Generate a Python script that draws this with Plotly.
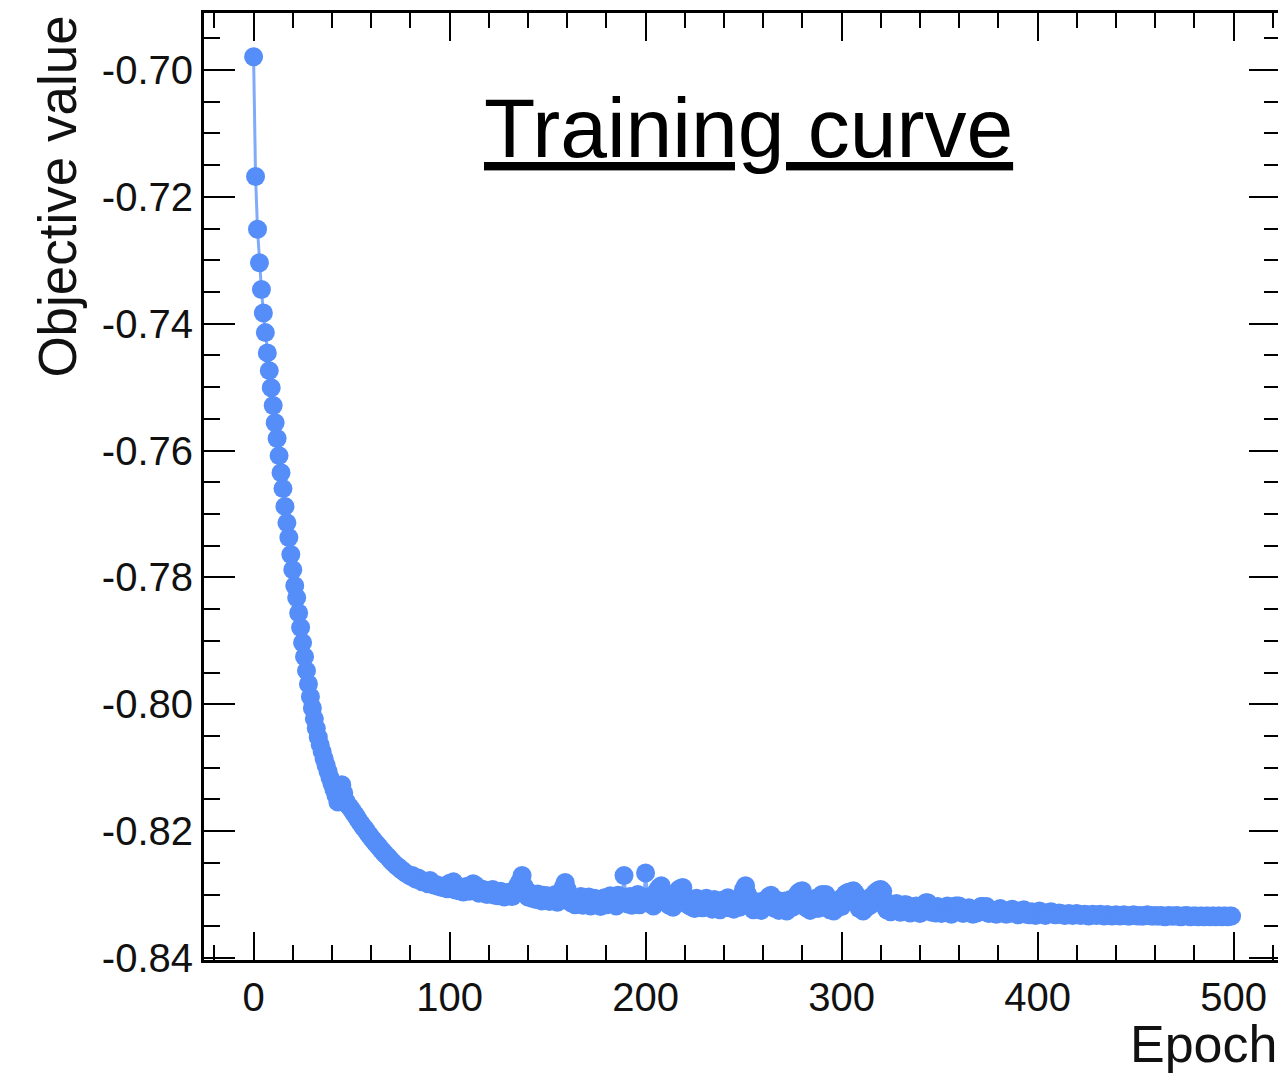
import plotly.graph_objects as go

# ---- data ----
objective = [
    -0.6979, -0.7168, -0.7251, -0.7304, -0.7346, -0.7383, -0.7414, -0.7446, -0.7474, -0.7501,
    -0.7529, -0.7556, -0.7581, -0.7608, -0.7635, -0.7660, -0.7688, -0.7714, -0.7737, -0.7764,
    -0.7788, -0.7813, -0.7832, -0.7856, -0.7879, -0.7903, -0.7925, -0.7947, -0.7968, -0.7988,
    -0.8006, -0.8023, -0.8038, -0.8052, -0.8064, -0.8075, -0.8086, -0.8096, -0.8106, -0.8116,
    -0.8125, -0.8134, -0.8143, -0.8154, -0.8129, -0.8127, -0.8140, -0.8152, -0.8158, -0.8162,
    -0.8166, -0.8171, -0.8175, -0.8180, -0.8185, -0.8189, -0.8194, -0.8197, -0.8202, -0.8206,
    -0.8210, -0.8214, -0.8218, -0.8221, -0.8225, -0.8229, -0.8232, -0.8236, -0.8239, -0.8242,
    -0.8246, -0.8249, -0.8252, -0.8255, -0.8257, -0.8260, -0.8262, -0.8265, -0.8267, -0.8269,
    -0.8271, -0.8270, -0.8274, -0.8276, -0.8274, -0.8278, -0.8280, -0.8279, -0.8281, -0.8283,
    -0.8278, -0.8282, -0.8285, -0.8284, -0.8287, -0.8286, -0.8289, -0.8288, -0.8290, -0.8291,
    -0.8282, -0.8290, -0.8280, -0.8293, -0.8286, -0.8294, -0.8289, -0.8296, -0.8291, -0.8287,
    -0.8295, -0.8290, -0.8283, -0.8285, -0.8294, -0.8298, -0.8291, -0.8297, -0.8293, -0.8300,
    -0.8294, -0.8299, -0.8292, -0.8301, -0.8296, -0.8302, -0.8295, -0.8300, -0.8304, -0.8297,
    -0.8301, -0.8296, -0.8303, -0.8298, -0.8290, -0.8284, -0.8279, -0.8270, -0.8287, -0.8299,
    -0.8304, -0.8297, -0.8306, -0.8300, -0.8308, -0.8299, -0.8305, -0.8310, -0.8301, -0.8307,
    -0.8302, -0.8311, -0.8304, -0.8309, -0.8300, -0.8312, -0.8305, -0.8295, -0.8288, -0.8281,
    -0.8292, -0.8306, -0.8313, -0.8305, -0.8316, -0.8308, -0.8314, -0.8303, -0.8317, -0.8309,
    -0.8313, -0.8304, -0.8318, -0.8310, -0.8306, -0.8315, -0.8308, -0.8319, -0.8311, -0.8305,
    -0.8316, -0.8309, -0.8302, -0.8314, -0.8307, -0.8318, -0.8301, -0.8310, -0.8304, -0.8270,
    -0.8306, -0.8315, -0.8303, -0.8317, -0.8308, -0.8312, -0.8300, -0.8316, -0.8305, -0.8309,
    -0.8266, -0.8304, -0.8314, -0.8307, -0.8318, -0.8300, -0.8293, -0.8289, -0.8286, -0.8298,
    -0.8312, -0.8305, -0.8317, -0.8308, -0.8320, -0.8311, -0.8297, -0.8292, -0.8290, -0.8289,
    -0.8301, -0.8315, -0.8307, -0.8319, -0.8310, -0.8322, -0.8306, -0.8316, -0.8309, -0.8321,
    -0.8313, -0.8306, -0.8320, -0.8311, -0.8323, -0.8308, -0.8318, -0.8312, -0.8324, -0.8309,
    -0.8319, -0.8313, -0.8305, -0.8321, -0.8310, -0.8323, -0.8314, -0.8307, -0.8320, -0.8302,
    -0.8292, -0.8286, -0.8299, -0.8316, -0.8309, -0.8324, -0.8311, -0.8320, -0.8313, -0.8325,
    -0.8310, -0.8319, -0.8307, -0.8303, -0.8301, -0.8312, -0.8322, -0.8309, -0.8325, -0.8315,
    -0.8321, -0.8310, -0.8326, -0.8314, -0.8308, -0.8320, -0.8312, -0.8302, -0.8297, -0.8295,
    -0.8294, -0.8306, -0.8321, -0.8311, -0.8325, -0.8309, -0.8318, -0.8306, -0.8322, -0.8303,
    -0.8300, -0.8301, -0.8300, -0.8313, -0.8324, -0.8310, -0.8326, -0.8315, -0.8321, -0.8308,
    -0.8319, -0.8304, -0.8299, -0.8297, -0.8296, -0.8302, -0.8294, -0.8298, -0.8308, -0.8322,
    -0.8312, -0.8326, -0.8309, -0.8320, -0.8306, -0.8316, -0.8302, -0.8298, -0.8295, -0.8293,
    -0.8292, -0.8295, -0.8310, -0.8324, -0.8316, -0.8327, -0.8318, -0.8325, -0.8314, -0.8323,
    -0.8328, -0.8319, -0.8316, -0.8316, -0.8324, -0.8329, -0.8320, -0.8327, -0.8318, -0.8325,
    -0.8330, -0.8321, -0.8317, -0.8313, -0.8313, -0.8320, -0.8328, -0.8322, -0.8329, -0.8319,
    -0.8326, -0.8330, -0.8321, -0.8327, -0.8318, -0.8325, -0.8331, -0.8322, -0.8318, -0.8318,
    -0.8318, -0.8324, -0.8330, -0.8322, -0.8328, -0.8321, -0.8327, -0.8331, -0.8324, -0.8329,
    -0.8323, -0.8319, -0.8319, -0.8326, -0.8319, -0.8330, -0.8324, -0.8329, -0.8325, -0.8331,
    -0.8324, -0.8322, -0.8328, -0.8325, -0.8331, -0.8326, -0.8329, -0.8323, -0.8330, -0.8327,
    -0.8332, -0.8326, -0.8330, -0.8324, -0.8331, -0.8328, -0.8332, -0.8327, -0.8330, -0.8333,
    -0.8329, -0.8326, -0.8328, -0.8331, -0.8333, -0.8330, -0.8328, -0.8327, -0.8330, -0.8332,
    -0.8331, -0.8329, -0.8330, -0.8332, -0.8333, -0.8331, -0.8330, -0.8332, -0.8333, -0.8331,
    -0.8330, -0.8332, -0.8333, -0.8332, -0.8331, -0.8332, -0.8334, -0.8333, -0.8331, -0.8332,
    -0.8333, -0.8332, -0.8331, -0.8333, -0.8334, -0.8332, -0.8332, -0.8333, -0.8334, -0.8333,
    -0.8332, -0.8333, -0.8334, -0.8333, -0.8332, -0.8333, -0.8334, -0.8334, -0.8333, -0.8332,
    -0.8333, -0.8334, -0.8333, -0.8334, -0.8334, -0.8333, -0.8332, -0.8333, -0.8334, -0.8334,
    -0.8333, -0.8334, -0.8334, -0.8333, -0.8334, -0.8335, -0.8334, -0.8333, -0.8334, -0.8334,
    -0.8334, -0.8333, -0.8334, -0.8335, -0.8334, -0.8334, -0.8333, -0.8334, -0.8335, -0.8334,
    -0.8334, -0.8334, -0.8335, -0.8334, -0.8334, -0.8335, -0.8334, -0.8334, -0.8335, -0.8334,
    -0.8334, -0.8335, -0.8334, -0.8334, -0.8335, -0.8334, -0.8334, -0.8335, -0.8334, -0.8334,
]
epochs = list(range(len(objective)))

x_tickvals = [0, 100, 200, 300, 400, 500]
x_ticktext = ["0", "100", "200", "300", "400", "500"]
y_tickvals = [-0.70, -0.72, -0.74, -0.76, -0.78, -0.80, -0.82, -0.84]
y_ticktext = ["-0.70", "-0.72", "-0.74", "-0.76", "-0.78", "-0.80", "-0.82", "-0.84"]

title_text = "Training curve"
x_title = "Epoch"
y_title = "Objective value"

# ---- styles ----
BLUE = "rgb(85,142,248)"
FONT = "Liberation Sans, Arial, Helvetica, sans-serif"

fig = go.Figure()
fig.add_trace(go.Scatter(
    x=epochs, y=objective, mode="lines+markers",
    line=dict(color="rgba(85,142,248,0.75)", width=3),
    marker=dict(color=BLUE, size=19, line=dict(width=0)),
    showlegend=False, hoverinfo="x+y",
))

axis_common = dict(
    showline=True, mirror="ticks", linecolor="black", linewidth=3,
    ticks="inside", tickcolor="black", tickwidth=2,
    showgrid=False, zeroline=False, automargin=False,
    tickfont=dict(family=FONT, size=40, color="#111111"),
)

fig.update_xaxes(
    **axis_common,
    range=[-25.3, 523.7],
    tickmode="array", tickvals=x_tickvals, ticktext=x_ticktext,
    ticklen=28,
    minor=dict(ticks="inside", dtick=20, tick0=0, ticklen=15, tickwidth=2, tickcolor="black", showgrid=False),
)
fig.update_yaxes(
    **axis_common,
    range=[-0.84032, -0.69101],
    tickmode="array", tickvals=y_tickvals, ticktext=y_ticktext,
    ticklen=31,
    minor=dict(ticks="inside", dtick=0.005, tick0=-0.70, ticklen=16, tickwidth=2, tickcolor="black", showgrid=False),
)

# page body has an 8px default margin, so the figure is offset by 8px
fig.update_layout(
    width=1278, height=1070,
    margin=dict(l=196, r=6, t=5, b=118),
    paper_bgcolor="white", plot_bgcolor="white",
    font=dict(family=FONT, color="black"),
    annotations=[
        dict(text="<u>" + title_text + "</u>", xref="paper", yref="paper",
             x=0.5056, y=0.8786, xanchor="center", yanchor="middle",
             showarrow=False, font=dict(family=FONT, size=84, color="black")),
        dict(text=x_title, xref="paper", yref="paper",
             x=0.999, y=-0.056, xanchor="right", yanchor="top",
             showarrow=False, font=dict(family=FONT, size=52, color="#111111")),
        dict(text=y_title, xref="paper", yref="paper", textangle=-90,
             x=-0.136, y=0.999, xanchor="center", yanchor="top",
             showarrow=False, font=dict(family=FONT, size=53, color="#111111")),
    ],
)

fig.write_html("out.html")
